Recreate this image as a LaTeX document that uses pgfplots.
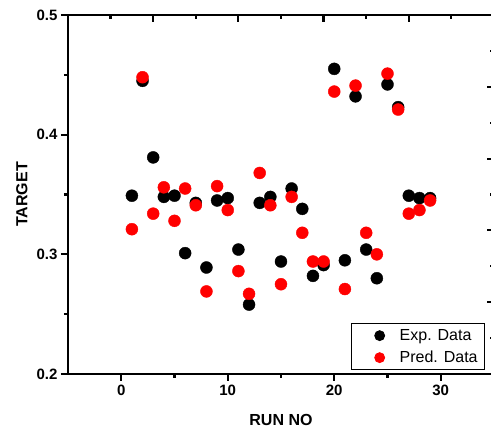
\documentclass[border=0pt]{standalone}
\usepackage{fontspec}
\setmainfont{Liberation Sans}
\usepackage{pgfplots}
\pgfplotsset{compat=1.18}

\pgfplotstableread{
x  exp    pred
1  0.349  0.321
2  0.445  0.448
3  0.381  0.334
4  0.348  0.356
5  0.349  0.328
6  0.301  0.355
7  0.343  0.341
8  0.289  0.269
9  0.345  0.357
10 0.347  0.337
11 0.304  0.286
12 0.258  0.267
13 0.343  0.368
14 0.348  0.341
15 0.294  0.275
16 0.355  0.348
17 0.338  0.318
18 0.282  0.294
19 0.291  0.294
20 0.455  0.436
21 0.295  0.271
22 0.432  0.441
23 0.304  0.318
24 0.280  0.300
25 0.442  0.451
26 0.423  0.421
27 0.349  0.334
28 0.347  0.337
29 0.347  0.345
}\runs

\begin{document}
\begin{tikzpicture}
% main layer
\begin{axis}[
    at={(0pt,0pt)}, anchor=south west,
    scale only axis, width=426pt, height=359pt,
    xmin=-5, xmax=35, ymin=0.2, ymax=0.5,
    axis x line*=bottom, axis y line*=left,
    axis line style={line width=2.6pt, -, line cap=rect},
    xtick={0,10,20,30}, minor xtick={5,15,25},
    ytick={0.2,0.3,0.4,0.5}, minor ytick={0.25,0.35,0.45},
    tick align=outside,
    major tick length=7pt, minor tick length=4pt,
    every tick/.style={line width=2.2pt, black},
    /pgf/number format/assume math mode=true,
    tick label style={font=\bfseries\fontsize{15}{15}\selectfont},
    y tick label style={/pgf/number format/.cd, fixed, fixed zerofill, precision=1},
    xlabel={RUN NO}, ylabel={TARGET},
    label style={font=\bfseries\fontsize{16}{16}\selectfont},
    xlabel style={at={(axis description cs:0.5,-0.128)}, anchor=center},
    ylabel style={at={(axis description cs:-0.108,0.5)}, anchor=center},
    legend style={at={(0.979,0.011)}, anchor=south east, draw=black, line width=0.8pt,
        font=\fontsize{16}{18}\selectfont, row sep=4pt, inner xsep=5pt, inner ysep=3pt},
    legend cell align=left,
    legend image code/.code={
        \path[draw=none, fill=none] (-23pt,-9pt) rectangle (18pt,9pt);
        \draw[#1, mark size=5pt] plot coordinates {(0pt,0pt)};
    },
]
\addplot[only marks, mark=*, mark size=6pt, black, mark options={fill=black}] table[x=x, y=exp] {\runs};
\addplot[only marks, mark=*, mark size=6pt, red, mark options={fill=red}] table[x=x, y=pred] {\runs};
\legend{Exp. Data, Pred. Data}
\end{axis}
% empty twin layer: top and right axes
\begin{axis}[
    at={(0pt,0pt)}, anchor=south west,
    scale only axis, width=426pt, height=359pt,
    xmin=0, xmax=5, ymin=0, ymax=5,
    axis x line*=top, axis y line*=right,
    axis line style={line width=2.6pt, -, line cap=rect},
    xtick={0,...,5}, ytick={0,...,5}, minor tick num=1,
    xticklabels={}, yticklabels={},
    tick align=inside,
    major tick length=7pt, minor tick length=4pt,
    every tick/.style={line width=2.2pt, black},
]
\end{axis}
\pgfresetboundingbox
\useasboundingbox (-68pt,-60pt) rectangle (423pt,374pt);
\end{tikzpicture}
\end{document}
